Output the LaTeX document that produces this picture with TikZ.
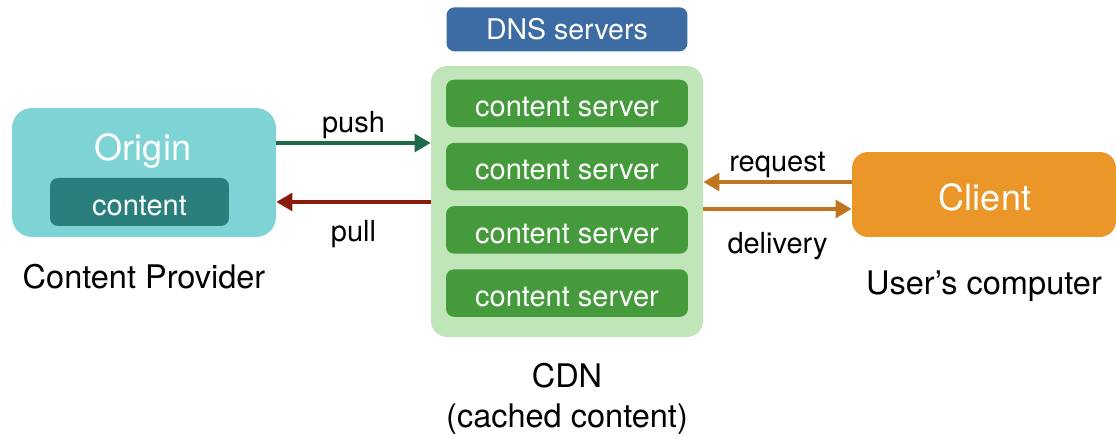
\documentclass[tikz,border=0pt]{standalone}
\usepackage{fontspec}
\setmainfont{TeX Gyre Heros}
\usepackage{xcolor}
\usepackage{tikz}
\usetikzlibrary{positioning,arrows.meta}

\definecolor{originTeal}{RGB}{126,212,212}
\definecolor{contentTeal}{RGB}{42,126,124}
\definecolor{dnsBlue}{RGB}{61,108,165}
\definecolor{cdnLight}{RGB}{192,229,185}
\definecolor{serverGreen}{RGB}{69,155,60}
\definecolor{clientOrange}{RGB}{234,150,40}
\definecolor{pushGreen}{RGB}{29,106,72}
\definecolor{pullRed}{RGB}{138,26,11}
\definecolor{reqOrange}{RGB}{192,118,30}

\begin{document}
\begin{tikzpicture}[
        x=0.02cm, y=-0.02cm,
        font=\fontsize{16.5}{22.7}\selectfont,
        originNode/.style={rectangle, fill=originTeal, rounded corners=0.4cm,
        minimum width=5.28cm, minimum height=2.58cm},
        contentNode/.style={rectangle, fill=contentTeal, rounded corners=0.16cm,
        text=white, minimum width=3.58cm, minimum height=0.96cm, inner sep=0pt,
        text height=15pt, text depth=0pt},
        titleText/.style={text=white, font=\fontsize{20.5}{24}\selectfont},
        captionText/.style={font=\fontsize{18.5}{22.7}\selectfont, align=center},
        cdnNode/.style={rectangle, fill=cdnLight, rounded corners=0.32cm,
        minimum width=5.44cm, minimum height=5.42cm},
        dnsNode/.style={rectangle, fill=dnsBlue, rounded corners=0.16cm, text=white,
        minimum width=4.82cm, minimum height=0.88cm, inner sep=0pt,
        font=\fontsize{16.2}{20}\selectfont},
        serverNode/.style={rectangle, fill=serverGreen, rounded corners=0.16cm,
        text=white, minimum width=4.84cm, minimum height=0.95cm, inner sep=0pt,
        text height=15pt, text depth=0pt},
        clientNode/.style={rectangle, fill=clientOrange, rounded corners=0.32cm,
        minimum width=5.28cm, minimum height=1.7cm},
        flowArrow/.style={line width=2.2pt, -{Triangle[length=0.32cm, width=0.35cm]}},
    ]
    \useasboundingbox (0,0) rectangle (1116,438);

    % content provider
    \node[originNode]  (origin)         at (144,172.5)  {};
    \node[titleText]   (originTitle)    at (143,151)    {Origin};
    \node[contentNode] (originContent)  at (139.5,202)  {content};
    \node[captionText] (providerLabel)  [below=0.42cm of origin] {Content Provider};

    % cdn
    \node[cdnNode]     (cdn)            at (567,201.5)  {};
    \node[dnsNode]     (dns)            [above=0.28cm of cdn] {DNS servers};
    \node[serverNode]  (serverA)        at (567,103.5)  {content server};
    \node[serverNode]  (serverB)        [below=0.3cm of serverA] {content server};
    \node[serverNode]  (serverC)        [below=0.3cm of serverB] {content server};
    \node[serverNode]  (serverD)        [below=0.3cm of serverC] {content server};
    \node[captionText] (cdnLabel)       [below=0.4cm of cdn] {CDN\\(cached content)};

    % client
    \node[clientNode]  (client)         at (984,194.5)  {};
    \node[titleText]   (clientTitle)    at (985,197)    {Client};
    \node[captionText] (userLabel)      [below=0.54cm of client] {User’s computer};

    \draw[flowArrow, pushGreen] ([yshift=0.59cm]origin.east) -- ([yshift=0.59cm]origin.east -| cdn.west)
        node[midway, above=-2pt, text=black] {push};
    \draw[flowArrow, pullRed] ([yshift=-0.59cm]origin.east -| cdn.west) -- ([yshift=-0.59cm]origin.east)
        node[midway, below=6pt, text=black] {pull};
    \draw[flowArrow, reqOrange] ([yshift=0.25cm]client.west) -- ([yshift=0.25cm]client.west -| cdn.east)
        node[midway, above=-2pt, text=black] {request};
    \draw[flowArrow, reqOrange] ([yshift=-0.29cm]client.west -| cdn.east) -- ([yshift=-0.29cm]client.west)
        node[midway, below=9pt, text=black] {delivery};
\end{tikzpicture}
\end{document}
